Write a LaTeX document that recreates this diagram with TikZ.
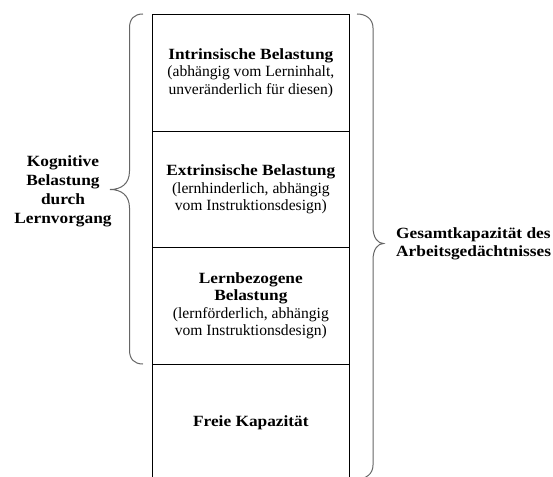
\documentclass[tikz,border=0pt]{standalone}
\usepackage{fontspec}
\setmainfont{Liberation Serif}[BoldFeatures={FakeStretch=1.11}]
\begin{document}
\begin{tikzpicture}[x=1pt,y=-1pt,
  layer/.style={draw=black, line width=1.2pt, minimum width=197.5pt, minimum height=116.5pt,
    inner sep=0pt, align=center, font=\fontsize{15.6}{17.5}\selectfont, anchor=north west},
  bracepath/.style={draw=black!60, line width=1pt},
  sidelabel/.style={font=\fontsize{15.6}{19}\selectfont\bfseries, inner sep=0pt}]
\useasboundingbox (0,0) rectangle (553,476);
\clip (0,0) rectangle (553,476);
\node[layer] (b1) at (151.5,14) {\textbf{Intrinsische Belastung}\\(abhängig vom Lerninhalt,\\unveränderlich für diesen)};
\node[layer] (b2) at (151.5,130.5) {\textbf{Extrinsische Belastung}\\(lernhinderlich, abhängig\\vom Instruktionsdesign)};
\node[layer] (b3) at (151.5,247) {\textbf{Lernbezogene}\\\textbf{Belastung}\\(lernförderlich, abhängig\\vom Instruktionsdesign)};
\node[layer] (b4) at (151.5,363.5) {\textbf{Freie Kapazität}};
% left brace
\draw[bracepath] (143,14) .. controls (134,14) and (129.5,19) .. (129.5,28)
  -- (129.5,171) .. controls (129.5,184) and (121,189.5) .. (110,189.5)
  .. controls (121,189.5) and (129.5,195) .. (129.5,208)
  -- (129.5,350) .. controls (129.5,359) and (134,364) .. (143,364);
% right brace
\draw[bracepath] (357,14) .. controls (366,14) and (373,19) .. (373,28)
  -- (373,227) .. controls (373,238) and (378,243.5) .. (383.5,243.5)
  .. controls (378,243.5) and (373,249) .. (373,260)
  -- (373,465) .. controls (373,474) and (366,479) .. (357,479);
\node[sidelabel, align=center] (kl) at (63,191) {Kognitive\\Belastung\\durch\\Lernvorgang};
\node[sidelabel, align=left, anchor=west, font=\fontsize{15.6}{17.5}\selectfont\bfseries] (gk) at (396,244) {Gesamtkapazität des\\Arbeitsgedächtnisses};
\end{tikzpicture}
\end{document}
